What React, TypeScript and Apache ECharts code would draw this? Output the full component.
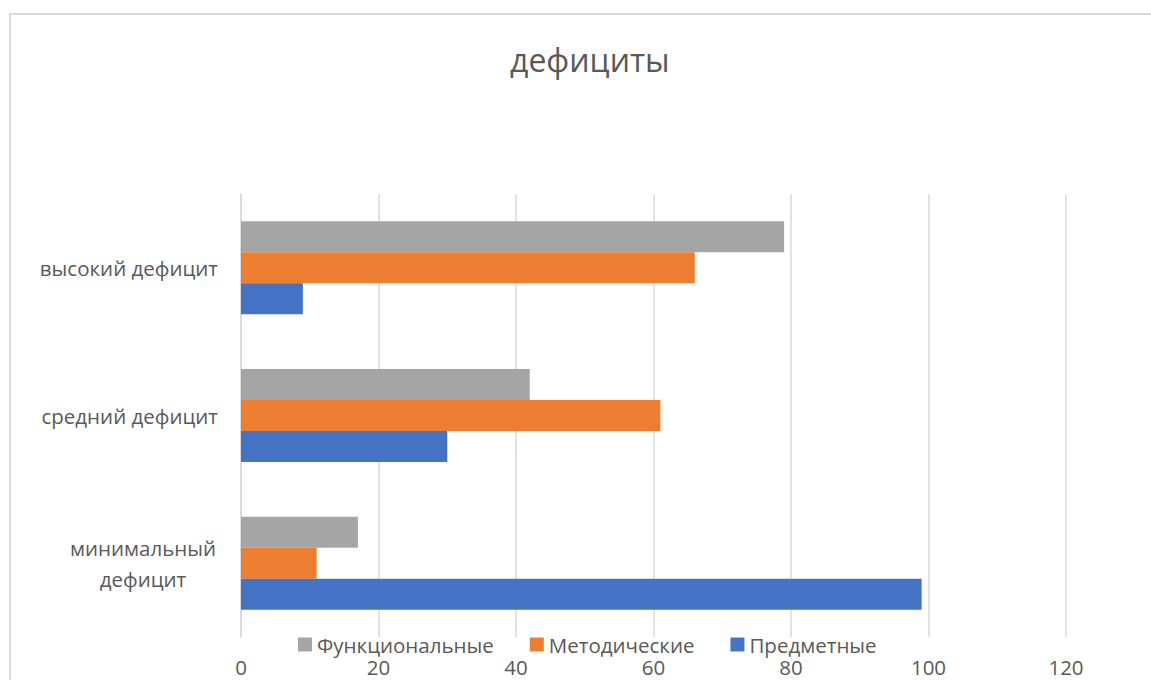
import React, { useEffect, useRef } from "react";
import * as echarts from "echarts";

const categories = ["минимальный дефицит", "средний дефицит", "высокий дефицит"];
const seriesNames = ["Функциональные", "Методические", "Предметные"];
const functional = [17, 42, 79];
const methodical = [11, 61, 66];
const subject = [99, 30, 9];
const colors = ["#A5A5A5", "#ED7D31", "#4472C4"];
const title = "дефициты";

export default function App() {
  const ref = useRef<HTMLDivElement>(null);
  useEffect(() => {
    if (!ref.current) return;
    const chart = echarts.init(ref.current, null, { renderer: "svg" });
    const font = "'Open Sans', sans-serif";
    const values = [functional, methodical, subject];
    chart.setOption({
      animation: false,
      backgroundColor: "#ffffff",
      textStyle: { fontFamily: font },
      title: {
        text: title,
        left: 505,
        top: 38,
        textStyle: { color: "#595959", fontSize: 32, fontWeight: "normal", fontFamily: font },
      },
      graphic: [
        {
          type: "rect",
          shape: { x: 10, y: 14, width: 1150, height: 700 },
          style: { fill: "none", stroke: "#d9d9d9", lineWidth: 2 },
          silent: true,
        },
      ],
      legend: {
        data: seriesNames,
        left: 298,
        top: 634,
        itemWidth: 14,
        itemHeight: 14,
        itemGap: 36,
        padding: 0,
        icon: "rect",
        textStyle: { color: "#595959", fontSize: 20.5, fontFamily: font, padding: [0, 0, 0, 0] },
      },
      grid: { left: 241, right: 85, top: 194, bottom: 43, containLabel: false },
      xAxis: {
        type: "value",
        min: 0,
        max: 120,
        interval: 20,
        axisLine: { show: false },
        axisTick: { show: false },
        splitLine: { lineStyle: { color: "#d9d9d9", width: 1.5 } },
        axisLabel: { color: "#595959", fontSize: 20.5, margin: 19, fontFamily: font },
      },
      yAxis: {
        type: "category",
        data: categories,
        axisLine: { show: true, lineStyle: { color: "#d9d9d9", width: 1.5 } },
        axisTick: { show: false },
        axisLabel: {
          color: "#595959",
          fontSize: 20.5,
          margin: 23,
          fontFamily: font,
          formatter: (v: string) => {
            if (v === "минимальный дефицит") return "{c|минимальный}\n{c|дефицит}";
            return v;
          },
          rich: {
            c: { width: 150, align: "center", color: "#595959", fontSize: 20.5, fontFamily: font, lineHeight: 31 },
          },
        },
      },
      series: seriesNames.map((name, i) => ({
        name,
        type: "bar",
        data: values[i],
        itemStyle: { color: colors[i] },
        barGap: "0%",
        barCategoryGap: "37%",
      })),
    });
    return () => chart.dispose();
  }, []);
  return <div ref={ref} style={{ position: "fixed", left: 0, top: 0, width: 1151, height: 680 }} />;
}
